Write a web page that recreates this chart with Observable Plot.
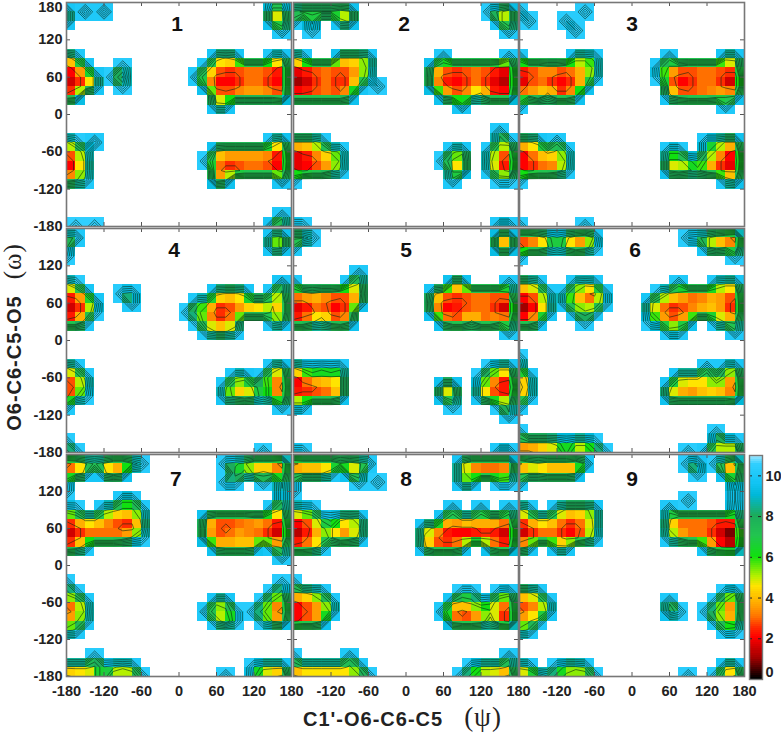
<!DOCTYPE html>
<html><head><meta charset="utf-8">
<script src="https://cdn.jsdelivr.net/npm/d3@7"></script>
<script src="https://cdn.jsdelivr.net/npm/@observablehq/plot@0.6"></script>
<style>
html,body{margin:0;padding:0;background:#fff}
#chart{position:relative;width:781px;height:740px;overflow:hidden;font-family:"Liberation Sans",Arial,sans-serif;font-weight:bold;color:#222}
#chart>svg{position:absolute}
.t{position:absolute;white-space:nowrap}
.g{font-family:"Liberation Serif",serif;font-weight:normal}
</style></head><body><div id="chart"></div>
<script>
// Node energies on a 15-degree grid, rows omega 180 -> -180, columns psi -180 -> 180. '.' = above the top of the scale.
const panel1=["..... ..... ..... ..... ..99.","6.7.7 ..... ..... ..... ..55.","6.... ..... ..... ..... ..54.","..... ..... ..... ..... ...7.","","","47... ..... ..... .656. ..76.","236.. .8... ..... 74333 3332.","1236. 85... ....7 42223 3322.","1236. .8... ..... 52223 3322.","34... ..... ..... .4344 4443.","..... ..... ..... .66.. .....","","","","58.7. ..... ..... ..... ..75.","347.. ..... ..... .5444 4442.","136.. ..... ..... 84333 3321.","136.. ..... ..... .3223 3332.","457.. ..... ..... .45.. ...6.","","","","..... ..... ..... ..... ...7.",".9.9. ..... ..... ..... ..65."];
const panel2=["","65555 45... ..... ..... .864.","7.6.. 65... ..... ..... ..64.","..8.. ..... ..... ..... ...7.","","","57... 5556. ..... .7... ...7.","23333 3346. ..... 54333 3322.","11233 2347. ..... 42223 3221.","11233 236.8 ..... 43223 3211.","33333 35... ..... .5435 7333.","..... ..... ..... ...6. .....","","","..... ..... ..... ..... ..7..","5557. ..... ..... ..... ..67.","23356 7.... ..... ..76. .743.","11233 6.... ..... .854. .631.","32335 7.... ..... ..54. .732.","8.... ..... ..... ..7.. ..88.","","","","","88... ..... ..... ..... ..77."];
const panel3=["","8.... ..8.. ..... ..... .....",".8... 8.... ..... ..... .....","..... .8... ..... ..... .....","","","7.... .667. ..... .7... ..66.","33344 3446. ..... 75433 3334.","12332 2347. ..... 83223 3321.","13332 235.. ..... .4223 3321.","35373 35... ..... .6433 3455.","7.... ..... ..... ..... ..7..","","","","556.7 ..... ..... ..... 7755.","23465 7.... ..... .77.. 7532.","12333 6.... ..... .5568 5321.","32334 7.... ..... .5456 4322.","8.... ..... ..... ..... ..75.","","","","","8.... ..8.. ..... ..... ....."];
const panel4=["","67... ..... ..... ..... ..65.","6.... ..... ..... ..... ..65.","8....","","","58... ..... ..... ..... ...6.","336.. .87.. ..... .6556 ..75.","1236. ..7.. ....7 63334 5553.","1238. ..... ...86 42234 4463.","337.. ..... ....8 4334. ..75.","..... ..... ..... 7557. .....","","","","57... ..... ..... ..... ..75.","347.. ..... ..... ...76 .743.","136.. ..... ..... ..744 6842.","258.. ..... ..... ..654 5843.","7.... ..... ..... ..... ...7.","","","","8....","68... ..... ..... ..... .8..."];
const panel5=["","558.. ..... ..... ..... ..44.","7.... ..... ..... ..... ..44.","","","..... ..7.. ..... ..... .....","7.... .75.. ..... ..55. ...7.","44544 334.. ..... 64333 3335.","22332 235.. ..... 42223 3321.","12242 23... ..... 52233 3321.","33574 35... ..... .5336 3354.","..... ..... ..... ..... ...7.","","","","57878 7.... ..... ..... .866.","23555 5.... ..... ..... 8533.","12233 5.... ..... .55.. 6321.","33333 5.... ..... .54.. 6333.","77... ..... ..... ..8.. ..86.","..... ..... ..... ..... ...7.","","","","88... ..... ..... ..... ..77."];
const panel6=["","33468 6436. ..... ...87 6432.","23358 5348. ..... ..... 6453.","8.... ..... ..... ..... ...8.","","","557.. .767. ..... ..7.. .766.","3347. 75327 ..... 85533 3433.","1136. 65347 ....6 43333 4432.","1136. .767. ....6 32234 4432.","336.. ..8.. ....8 6345. .755.","..... ..... ..... .77.. ...7.","","","8....","5.... ..... ..... ..... 7.76.","37... ..... ..... ..666 4853.","16... ..... ..... .6433 5442.","37... ..... ..... .5444 4443.","7....","","","8.... ..... ..... ..... .8...","55556 8668. ..... ..... .677.","22344 74468 ..... ...8. 7433."];
const panel7=["","23575 3358. ..... ..876 3332.","346.6 45... ..... ...67 5653.","7.... ..... ..... ..88. .8.6.","8.... ..... ..... ..... ...7.","..... .77.. ..... ..... ...7.","78..7 6557. ..... ..... ..75.","34664 3336. ..... 53333 4433.","12333 3225. ..... 43233 3321.","12333 3468. ..... 43344 3321.","347.. ..... ..... .5444 5.65.","..... ..... ..... ..... ...7.","","","8.... ..... ..... ..... ...8.","68... ..... ..... ..... ..86.","347.. ..... ..... .66.. .853.","236.. ..... ..... 7458. 8632.","457.. ..... ..... .748. .854.","67...","","","...8.","66658 767.. ..... ..... 8666.","23358 4348. ..... ..8.. 7432."];
const panel8=["","23333 5457. ..... ...63 3333.","55557 .55.. ..... ...64 3334.","8.... ..8.8 ..... ...66 ..88.","8....","","678.. ..... ..... ..7.. 7..7.","33479 656.. ..... .6466 4554.","11356 345.. ....6 53222 3321.","12346 346.. ....5 32222 2221.","3347. ..... ....6 3335. .533.","","","","8....","5567. ..... ..... ...88 ..87.","23357 ..... ..... ..656 8743.","12336 ..... ..... .7323 4532.","2335. ..... ..... ..433 4832.","","","","8.... .7... ..... ..... ...7.","56666 657.. ..... ....8 6665.","23333 3458. ..... ...86 4432."];
const panel9=["","24544 436.. ..... ...86 .852.","55544 45... ..... ....8 ..54.","7.... ..... ..... ..... ...6.","..... ..... ..... ..... ...8.","..... ..... ..... ...8. ...8.","57..7 5556. ..... .7... ...7.","34664 3346. ..... .6333 3334.","12333 2236. ..... .5333 3211.","12333 2247. ..... .7533 3210.","46..6 6.... ..... ..... 6322.","","","","","557.. ..... ..... ..... ..86.","3347. ..... ..... .7... .853.","2336. ..... ..... .58.. 8633.","457.. ..... ..... ..... .754.","67... ..... ..... ..... ..78.","","","","67..8 667.. ..... ..... ..66.","33586 5448. ..... ...8. .842."];
const panels=[panel1,panel2,panel3,panel4,panel5,panel6,panel7,panel8,panel9];
const colorStops=[0,1,2,2.5,3,3.5,4,4.5,5,6,7,8,9,9.6,10.5,11];
const colorRange=["#000000","#a00000","#ff0000","#ff2c00","#ff7000","#ff9c00","#ffc000","#ffe400","#b4f000","#10e010","#22c450","#1cac5c","#00b8d8","#12c4f4","#30cfff","#b8ecff"];
const contourLevels=[2.5,5.2,6,7,8,9,10];
const ticks=[-120,-60,0,60,120];
const xTickLabels=[-120,-60,0,60,120,180];
const yTickLabels=[-180,-120,-60,0,60,120];
const colorbarLabels=[2,4,6,8,10];
const colsX=[66,293,519], rowsY=[2,228,454];
const PW=225, PH=[224,224,222];
const STEP=15, TOP=11;
const color={type:"linear",domain:colorStops,range:colorRange,interpolate:"rgb",clamp:true};
const font="Liberation Sans";
const labelStyle={fontSize:14.5,fontWeight:"bold",fontFamily:font,fill:"#222"};

function nodes(rows){
  return rows.map(s=>[...s.replace(/ /g,"").padEnd(25,".")].map(c=>c==="."?TOP:+c));
}
function quads(g){
  const out=[];
  for(let j=0;j<24;j++)for(let i=0;i<24;i++){
    const m=(g[j][i]+g[j][i+1]+g[j+1][i]+g[j+1][i+1])/4;
    if(m<TOP) out.push({x1:-180+i*STEP,x2:-180+(i+1)*STEP,y1:180-j*STEP,y2:180-(j+1)*STEP,v:m});
  }
  return out;
}
// the rim of each basin rises more evenly than the coarse colour digits say
const rim=v=>v<=5||v>=TOP?v:5+(v-5)*0.6;
const chart=document.getElementById("chart");
panels.forEach((rows,k)=>{
  const c=k%3,r=Math.floor(k/3),g=nodes(rows),h=PH[r];
  const mL=c===0?40:1, mB=r===2?28:1;
  const marks=[
    Plot.rect(quads(g),{x1:"x1",x2:"x2",y1:"y1",y2:"y2",fill:"v",shapeRendering:"crispEdges"}),
    Plot.contour(g.flat().map(rim),{width:25,height:25,x1:-187.5,x2:187.5,y1:187.5,y2:-187.5,value:d=>d,thresholds:contourLevels,stroke:"#0c2a14",strokeWidth:0.6,fill:"none",clip:true}),
    Plot.tickX(ticks,{x:d=>d,insetTop:h-4,stroke:"#555",strokeWidth:1}),
    Plot.tickX(ticks,{x:d=>d,insetBottom:h-4,stroke:"#555",strokeWidth:1}),
    Plot.tickY(ticks,{y:d=>d,insetLeft:PW-4,stroke:"#555",strokeWidth:1}),
    Plot.tickY(ticks,{y:d=>d,insetRight:PW-4,stroke:"#555",strokeWidth:1}),
    Plot.frame({stroke:"#777",strokeWidth:1.6}),
    Plot.text([String(k+1)],{x:[-3,-3,0,-8,0,5,-5,0,0][k],y:[145,145,145,145,145,145,140,140,140][k],text:d=>d,fontSize:21,fontWeight:"bold",fontFamily:font,fill:"#111"})
  ];
  if(c===0){
    marks.push(Plot.axisY({ticks:yTickLabels,tickSize:0,tickPadding:4,tickFormat:d=>String(d),label:null,...labelStyle}));
    if(r===0) marks.push(Plot.text([180],{y:d=>d,frameAnchor:"left",dx:-4,dy:5,textAnchor:"end",text:d=>String(d),...labelStyle}));
  }
  if(r===2) marks.push(Plot.axisX({ticks:c===0?[-180,...xTickLabels]:xTickLabels,tickSize:0,tickPadding:9,tickFormat:d=>String(d),label:null,...labelStyle}));
  const svg=Plot.plot({width:PW+mL+1,height:h+mB+1,marginLeft:mL,marginRight:1,marginTop:1,marginBottom:mB,
    x:{domain:[-180,180],axis:null},y:{domain:[-180,180],axis:null},color,style:{background:"transparent",overflow:"visible"},marks});
  svg.style.left=(colsX[c]-mL)+"px";svg.style.top=(rowsY[r]-1)+"px";
  chart.appendChild(svg);
});
// colour bar
const barValues=d3.range(0,11,0.1);
const bar=Plot.plot({width:36,height:226,marginLeft:1,marginRight:22,marginTop:1,marginBottom:1,
  x:{domain:[0,1],axis:null},y:{domain:[0,11],axis:null},color,style:{background:"transparent",overflow:"visible"},
  marks:[
    Plot.rect(barValues,{x1:0,x2:1,y1:d=>d,y2:d=>d+0.1,fill:d=>d,shapeRendering:"crispEdges"}),
    Plot.tickY(colorbarLabels,{y:d=>d,insetRight:9,stroke:"#222",strokeDasharray:"3 2"}),
    Plot.tickY(colorbarLabels,{y:d=>d,insetLeft:9,stroke:"#222",strokeDasharray:"3 2"}),
    Plot.frame({stroke:"#777",strokeWidth:1.4}),
    Plot.text(colorbarLabels,{y:d=>d,x:1,dx:3,text:d=>String(d),textAnchor:"start",...labelStyle}),
    Plot.text([0],{y:d=>d,x:1,dx:3,dy:-7,text:d=>String(d),textAnchor:"start",...labelStyle})
  ]});
bar.style.left="748px";bar.style.top="454px";
chart.appendChild(bar);
// axis titles
const xt=document.createElement("div");xt.className="t";xt.style.cssText="left:303px;top:707px;font-size:20px;letter-spacing:1px;";
xt.innerHTML="C1'-O6-C6-C5<span class='g' style='font-size:27px;margin-left:21px;line-height:20px'>(ψ)</span>";chart.appendChild(xt);
const yt=document.createElement("div");yt.className="t";yt.style.cssText="left:14px;top:337px;font-size:20px;letter-spacing:1px;transform:translate(-50%,-50%) rotate(-90deg);transform-origin:center;";
yt.innerHTML="O6-C6-C5-O5<span class='g' style='font-size:25px;margin-left:16px;line-height:20px'>(ω)</span>";chart.appendChild(yt);
</script></body></html>
